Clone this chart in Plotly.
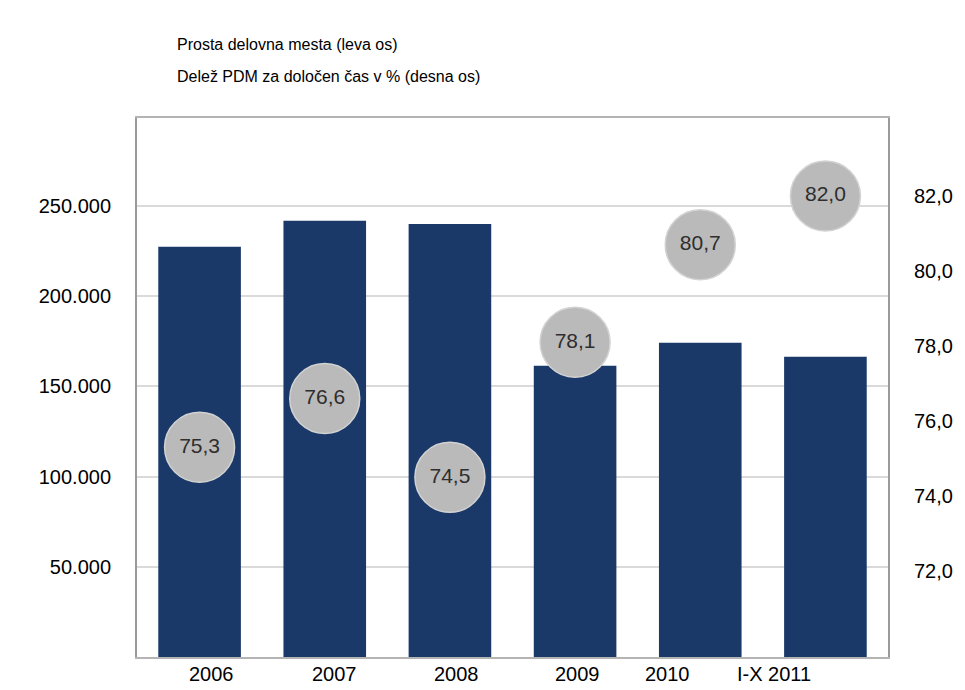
import plotly.graph_objects as go

categories = ["2006", "2007", "2008", "2009", "2010", "I-X 2011"]
vacancies = [227400, 241800, 240000, 161500, 174200, 166500]
fixed_term_share = [75.3, 76.6, 74.5, 78.1, 80.7, 82.0]

left_ticks = [50000, 100000, 150000, 200000, 250000]
right_ticks = [72, 74, 76, 78, 80, 82]

legend_labels = ["Prosta delovna mesta (leva os)", "Delež PDM za določen čas v % (desna os)"]

# horizontal nudges of the category labels as they appear in the original (px)
label_nudge = [12, 10, 7, 2, -33, -51]

FONT = "Liberation Sans, Arial, sans-serif"

fig = go.Figure()
fig.add_trace(go.Bar(
    x=categories, y=vacancies, name=legend_labels[0],
    marker=dict(color="#1a3968", line=dict(width=0)),
    yaxis="y", showlegend=False,
))
fig.add_trace(go.Scatter(
    x=categories, y=fixed_term_share, name=legend_labels[1],
    mode="markers+text", yaxis="y2",
    marker=dict(size=70, color="#bababa", line=dict(width=1.5, color="#d2d2d2")),
    texttemplate="%{y:.1f}", textposition="middle center",
    textfont=dict(size=21, color="#2e2e2e", family=FONT),
    showlegend=False,
))

fig.update_layout(
    width=965, height=690,
    margin=dict(l=137, r=70, t=118, b=33),
    paper_bgcolor="white", plot_bgcolor="white",
    separators=",.",
    font=dict(family=FONT, size=20, color="#000000"),
    bargap=0.34,
    xaxis=dict(
        type="category", categoryorder="array", categoryarray=categories,
        range=[-0.5, len(categories) - 0.5],
        showgrid=False, showline=True, mirror=True,
        linecolor="#b4b4b4", linewidth=2, showticklabels=False,
    ),
    yaxis=dict(
        range=[0, 298800], tickvals=left_ticks, tickformat=",.0f",
        showgrid=True, gridcolor="#dadada", gridwidth=2,
        showline=True, linecolor="#9a9a9a", linewidth=2,
        ticks="outside", ticklen=20, tickcolor="rgba(0,0,0,0)",
        zeroline=False, tickfont=dict(size=20),
    ),
    yaxis2=dict(
        range=[69.71, 84.08], tickvals=right_ticks, tickformat=".1f",
        overlaying="y", side="right", showgrid=False,
        showline=True, linecolor="#9a9a9a", linewidth=2,
        ticks="outside", ticklen=20, tickcolor="rgba(0,0,0,0)",
        zeroline=False, tickfont=dict(size=20),
    ),
)

for i, (cat, dx) in enumerate(zip(categories, label_nudge)):
    fig.add_annotation(
        text=cat, x=i, xref="x", y=0, yref="paper",
        xanchor="center", yanchor="top", yshift=-4, xshift=dx,
        showarrow=False, font=dict(size=20, color="#000000", family=FONT),
    )

for label, ypx in zip(legend_labels, [45, 77]):
    fig.add_annotation(
        text=label, xref="paper", yref="paper",
        x=(175 - 137) / 758, y=(657 - ypx) / 539,
        xanchor="left", yanchor="middle", showarrow=False,
        font=dict(size=16, color="#000000", family=FONT),
    )

fig.write_html("out.html")
